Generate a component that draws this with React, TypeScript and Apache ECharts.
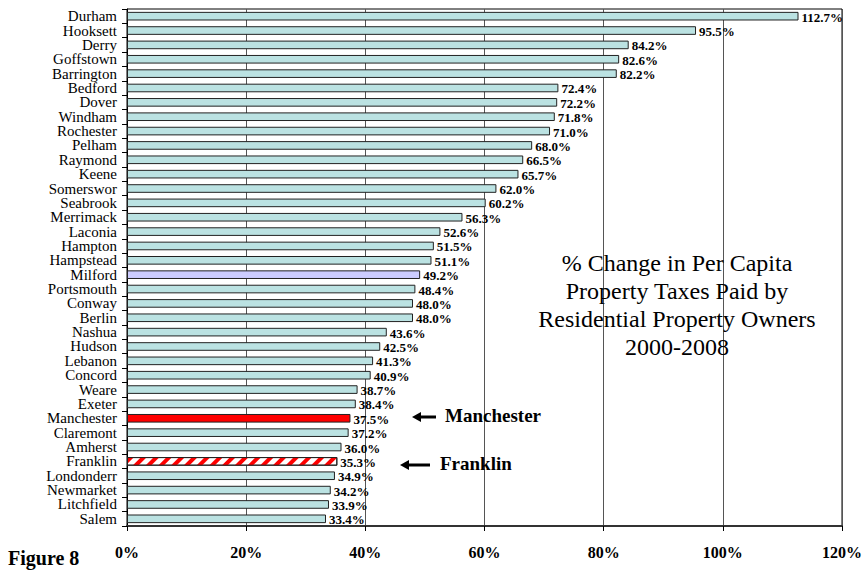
import React, { useEffect, useRef } from "react";
import * as echarts from "echarts";

const towns = [
  "Durham", "Hooksett", "Derry", "Goffstown", "Barrington", "Bedford", "Dover", "Windham",
  "Rochester", "Pelham", "Raymond", "Keene", "Somerswor", "Seabrook", "Merrimack", "Laconia",
  "Hampton", "Hampstead", "Milford", "Portsmouth", "Conway", "Berlin", "Nashua", "Hudson",
  "Lebanon", "Concord", "Weare", "Exeter", "Manchester", "Claremont", "Amherst", "Franklin",
  "Londonderr", "Newmarket", "Litchfield", "Salem",
];

const changePct = [
  112.7, 95.5, 84.2, 82.6, 82.2, 72.4, 72.2, 71.8,
  71.0, 68.0, 66.5, 65.7, 62.0, 60.2, 56.3, 52.6,
  51.5, 51.1, 49.2, 48.4, 48.0, 48.0, 43.6, 42.5,
  41.3, 40.9, 38.7, 38.4, 37.5, 37.2, 36.0, 35.3,
  34.9, 34.2, 33.9, 33.4,
];

const xTickMin = 0;
const xTickMax = 120;
const xTickStep = 20;

const titleLines = [
  "% Change in Per Capita",
  "Property Taxes Paid by",
  "Residential Property Owners",
  "2000-2008",
];

const highlightTown = "Milford";
const solidTown = "Manchester";
const stripedTown = "Franklin";

const SERIF = "Liberation Serif, Times New Roman, serif";

export default function App() {
  const ref = useRef<HTMLDivElement>(null);

  useEffect(() => {
    const chart = echarts.init(ref.current!, null, { renderer: "svg" });

    const data = towns.map((t, i) => {
      const item: any = { value: changePct[i] };
      if (t === highlightTown) {
        item.itemStyle = { color: "#ccccff" };
      } else if (t === solidTown) {
        item.itemStyle = { color: "#ff0000" };
      } else if (t === stripedTown) {
        item.itemStyle = {
          color: "#ffffff",
          decal: {
            symbol: "rect",
            symbolSize: 1,
            dashArrayX: [1, 0],
            dashArrayY: [4, 4.5],
            rotation: -Math.PI / 4,
            color: "#ff0000",
          },
        };
      }
      return item;
    });

    const titleGraphics = titleLines.map((line, i) => ({
      type: "text",
      x: 677,
      y: 263 + i * 28,
      style: {
        text: line,
        fontFamily: SERIF,
        fontSize: 24,
        fill: "#000",
        textAlign: "center",
        textVerticalAlign: "middle",
      },
      z: 100,
    }));

    const arrow = (tipX: number, tailX: number, y: number) => [
      {
        type: "line",
        shape: { x1: tipX + 7, y1: y, x2: tailX, y2: y },
        style: { stroke: "#000", lineWidth: 3 },
        z: 100,
      },
      {
        type: "polygon",
        shape: {
          points: [
            [tipX, y],
            [tipX + 9, y - 5],
            [tipX + 9, y + 5],
          ],
        },
        style: { fill: "#000" },
        z: 100,
      },
    ];

    const option: any = {
      animation: false,
      backgroundColor: "#ffffff",
      grid: {
        left: 127,
        right: 23,
        top: 9,
        bottom: 45,
        show: true,
        borderColor: "#000",
        borderWidth: 1,
        backgroundColor: "transparent",
      },
      xAxis: {
        type: "value",
        min: xTickMin,
        max: xTickMax,
        interval: xTickStep,
        axisLine: { show: true, lineStyle: { color: "#333", width: 2 } },
        axisTick: { show: true, length: 5, lineStyle: { color: "#000" } },
        splitLine: { show: true, lineStyle: { color: "#555", width: 1 } },
        axisLabel: {
          formatter: "{value}%",
          fontFamily: SERIF,
          fontWeight: "bold",
          fontSize: 16,
          color: "#000",
          margin: 18,
        },
      },
      yAxis: {
        type: "category",
        data: towns,
        inverse: true,
        axisLine: { show: true, lineStyle: { color: "#000", width: 1 } },
        axisTick: { show: true, length: 5, alignWithLabel: false, lineStyle: { color: "#000" } },
        axisLabel: {
          interval: 0,
          fontFamily: SERIF,
          fontSize: 15,
          color: "#000",
          margin: 10,
        },
      },
      series: [
        {
          type: "bar",
          data,
          barCategoryGap: "40%",
          itemStyle: {
            color: "#bbe2e2",
            borderColor: "#222",
            borderWidth: 1,
          },
          label: {
            show: true,
            position: "right",
            distance: 3,
            offset: [0, 1],
            formatter: (p: any) => Number(p.value).toFixed(1) + "%",
            fontFamily: SERIF,
            fontWeight: "bold",
            fontSize: 13,
            color: "#000",
          },
        },
      ],
      graphic: [
        ...titleGraphics,
        ...arrow(412, 436, 417),
        {
          type: "text",
          x: 445,
          y: 415,
          style: {
            text: "Manchester",
            fontFamily: SERIF,
            fontWeight: "bold",
            fontSize: 19,
            fill: "#000",
            textAlign: "left",
            textVerticalAlign: "middle",
          },
          z: 100,
        },
        ...arrow(400, 430, 465),
        {
          type: "text",
          x: 440,
          y: 463,
          style: {
            text: "Franklin",
            fontFamily: SERIF,
            fontWeight: "bold",
            fontSize: 19,
            fill: "#000",
            textAlign: "left",
            textVerticalAlign: "middle",
          },
          z: 100,
        },
        {
          type: "text",
          x: 8,
          y: 558,
          style: {
            text: "Figure 8",
            fontFamily: SERIF,
            fontWeight: "bold",
            fontSize: 20,
            fill: "#000",
            textAlign: "left",
            textVerticalAlign: "middle",
          },
          z: 100,
        },
      ],
    };

    chart.setOption(option);
    return () => chart.dispose();
  }, []);

  return (
    <div
      ref={ref}
      style={{ position: "fixed", left: 0, top: 0, width: 865, height: 571, background: "#fff" }}
    />
  );
}
